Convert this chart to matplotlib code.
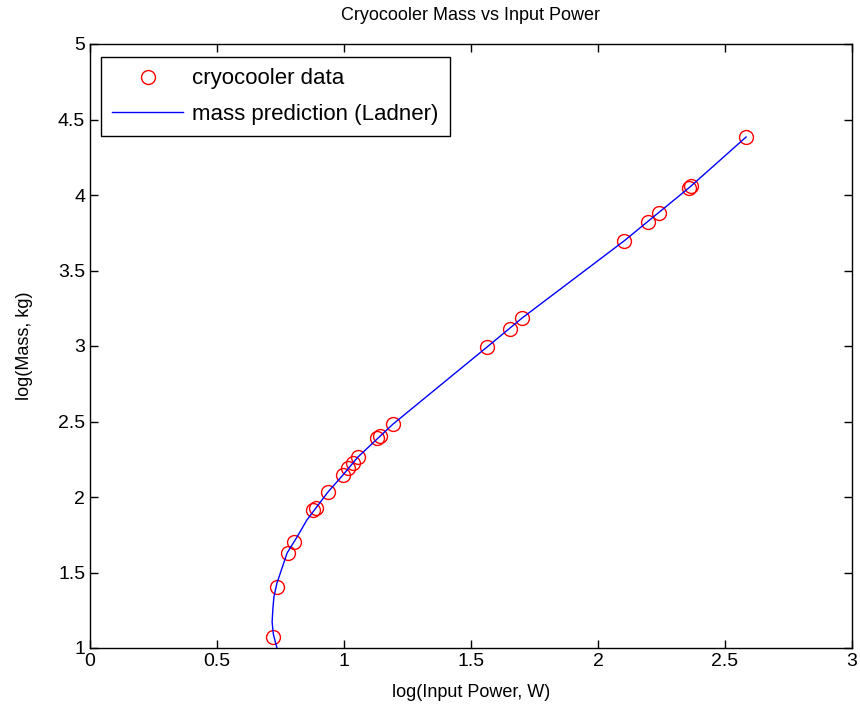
import matplotlib
matplotlib.use("Agg")
import matplotlib.pyplot as plt

# data
data_logP = [0.720, 0.736, 0.780, 0.803, 0.878, 0.890, 0.937, 0.996, 1.016, 1.035,
             1.055, 1.130, 1.142, 1.193, 1.563, 1.654, 1.701, 2.102, 2.197, 2.240,
             2.358, 2.366, 2.583]
data_logM = [1.073, 1.404, 1.629, 1.702, 1.914, 1.927, 2.033, 2.146, 2.192, 2.225,
             2.265, 2.391, 2.404, 2.483, 2.993, 3.113, 3.185, 3.695, 3.821, 3.881,
             4.046, 4.060, 4.384]

pred_logP = [0.736, 0.722, 0.717, 0.720, 0.724, 0.736, 0.776, 0.815, 0.854, 0.937,
             0.996, 1.055, 1.193, 1.563, 1.701, 2.102, 2.362, 2.583]
pred_logM = [1.000, 1.090, 1.172, 1.260, 1.338, 1.430, 1.629, 1.735, 1.848, 2.033,
             2.146, 2.265, 2.483, 2.993, 3.185, 3.695, 4.053, 4.384]

xticks = [0, 0.5, 1, 1.5, 2, 2.5, 3]
yticks = [1, 1.5, 2, 2.5, 3, 3.5, 4, 4.5, 5]

plt.rcParams['font.family'] = ['Liberation Sans', 'DejaVu Sans']

fig = plt.figure(figsize=(8.6, 7.13), dpi=100)
ax = fig.add_axes([90/860, 65/713, 762/860, 604/713])

ax.plot(data_logP, data_logM, 'o', mfc='none', mec='red', ms=10, mew=1,
        label='cryocooler data')
ax.plot(pred_logP, pred_logM, '-', color='blue', lw=1,
        label='mass prediction (Ladner)')

ax.set_xlim(0, 3)
ax.set_ylim(1, 5)
ax.set_xticks(xticks)
ax.set_xticklabels(['0', '0.5', '1', '1.5', '2', '2.5', '3'])
ax.set_yticks(yticks)
ax.set_yticklabels(['1', '1.5', '2', '2.5', '3', '3.5', '4', '4.5', '5'])
ax.tick_params(direction='in', top=True, right=True, labelsize=14, length=6, width=1)
for s in ax.spines.values():
    s.set_linewidth(1)

ax.set_title('Cryocooler Mass vs Input Power', fontsize=13, pad=17)
ax.set_xlabel('log(Input Power, W)', fontsize=13, labelpad=10)
ax.set_ylabel('log(Mass, kg)', fontsize=13, labelpad=18)

leg = ax.legend(loc='upper left', fontsize=16, fancybox=False, framealpha=1,
                edgecolor='black', borderpad=0.5, handlelength=3.2,
                handletextpad=0.4, labelspacing=0.65, borderaxespad=0,
                bbox_to_anchor=(0.0144, 0.978))
leg.get_frame().set_linewidth(1)

fig.savefig('out.png', dpi=100)
